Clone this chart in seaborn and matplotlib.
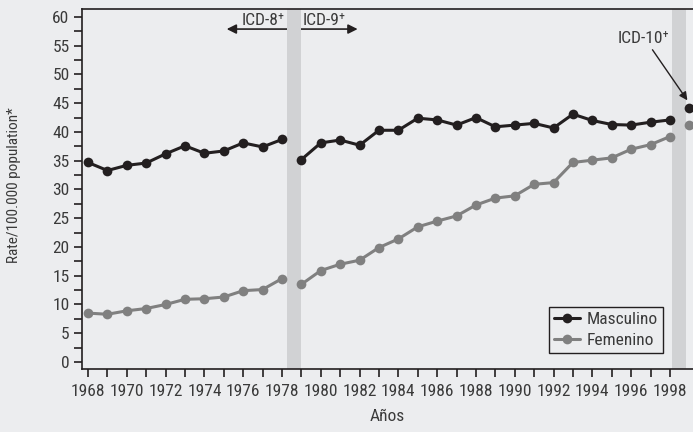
import matplotlib
matplotlib.use("Agg")
import matplotlib.pyplot as plt
from matplotlib.lines import Line2D
import seaborn as sns
import pandas as pd

years = list(range(1968, 2000))
masculino = [34.7, 33.3, 34.2, 34.6, 36.2, 37.6, 36.3, 36.7, 38.1, 37.4, 38.7,
             35.2, 38.1, 38.6, 37.7, 40.3, 40.3, 42.4, 42.1, 41.2, 42.5, 40.9,
             41.2, 41.5, 40.7, 43.1, 42.0, 41.3, 41.2, 41.7, 42.1, 44.2]
femenino = [8.5, 8.3, 8.9, 9.3, 10.0, 10.9, 11.0, 11.3, 12.4, 12.6, 14.5,
            13.5, 15.9, 17.0, 17.7, 19.9, 21.4, 23.5, 24.5, 25.4, 27.3, 28.5,
            28.9, 30.9, 31.2, 34.7, 35.1, 35.5, 37.0, 37.8, 39.2, 41.2]
segment_starts = [1968, 1979, 1999]  # ICD-8, ICD-9, ICD-10 periods
series_labels = ["Masculino", "Femenino"]
yticks = list(range(0, 61, 5))
xticks_labeled = list(range(1968, 1999, 2))

def seg_of(y):
    s = 0
    for i, st in enumerate(segment_starts):
        if y >= st:
            s = i
    return s

rows = []
for y, m, f in zip(years, masculino, femenino):
    rows.append({"year": y, "rate": m, "sexo": "Masculino", "seg": seg_of(y)})
    rows.append({"year": y, "rate": f, "sexo": "Femenino", "seg": seg_of(y)})
df = pd.DataFrame(rows)

sns.set_style("ticks")
plt.rcParams["font.family"] = ["Roboto Condensed", "DejaVu Sans"]
bg = "#ECEDEF"
txt = "#3A3A3A"
dark = "#231F20"
colors = {"Masculino": dark, "Femenino": "#808080"}

fig = plt.figure(figsize=(6.93, 4.32), dpi=100, facecolor=bg)
ax = fig.add_axes([82/693, 63/432, 1 - 82/693, 360/432])
ax.set_facecolor(bg)

# shaded bands (coding changes)
ax.axvspan(1978.25, 1978.98, color="#D1D2D4", lw=0, zorder=1)
ax.axvspan(1998.1, 1998.85, color="#D1D2D4", lw=0, zorder=1)

sns.lineplot(data=df, x="year", y="rate", hue="sexo", units="seg",
             estimator=None, palette=colors, hue_order=series_labels,
             marker="o", markersize=7, markeredgewidth=0, linewidth=2.2,
             ax=ax, legend=False, zorder=3)

ax.set_xlim(1967.69, 1999.19)
ax.set_ylim(-1.22, 61.39)
ax.set_yticks(yticks)
ax.set_yticks([v + 2.5 for v in yticks[:-1]], minor=True)
ax.set_xticks(years[:-1], minor=True)
ax.set_xticks(xticks_labeled)
ax.tick_params(axis="both", which="both", direction="out", length=6, width=1.2,
               color=dark, labelsize=12.5, labelcolor=txt, pad=3)
ax.tick_params(axis="x", which="major", pad=5)
for s in ["left", "bottom", "top"]:
    ax.spines[s].set_color(dark)
    ax.spines[s].set_linewidth(1.2)
ax.spines["right"].set_visible(False)

ax.set_xlabel("Años", fontsize=12.5, color=txt, labelpad=7)
ax.set_ylabel("")
fig.text(14/693, 1 - 185/432, "Rate/100.000 population*", rotation=90,
         ha="center", va="center", fontsize=11, color=txt)

# ICD annotations
arrow_kw = dict(arrowstyle="-|>", color=dark, lw=1.2, mutation_scale=14,
                shrinkA=0, shrinkB=0)
ax.annotate("", xy=(1975.15, 57.9), xytext=(1978.6, 57.9),
            arrowprops=arrow_kw, zorder=0)
ax.annotate("", xy=(1981.9, 57.9), xytext=(1978.6, 57.9),
            arrowprops=arrow_kw, zorder=0)
ax.text(1978.15, 58.0, "ICD-8⁺", ha="right", va="bottom",
        fontsize=12.5, color=txt)
ax.text(1979.05, 58.0, "ICD-9⁺", ha="left", va="bottom",
        fontsize=12.5, color=txt)
ax.text(1996.65, 54.9, "ICD-10⁺", ha="center", va="bottom",
        fontsize=12.5, color=txt)
ax.annotate("", xy=(1998.9, 45.5), xytext=(1997.1, 54.3),
            arrowprops=dict(arrowstyle="-|>", color=dark, lw=1.0,
                            mutation_scale=12, shrinkA=0, shrinkB=0))

handles = [Line2D([], [], color=colors[k], marker="o", markersize=7,
                  markeredgewidth=0, linewidth=2.2) for k in series_labels]
leg = ax.legend(handles, series_labels, loc="lower left",
                bbox_to_anchor=((549 - 82) / 611, (369 - 353) / 360),
                fontsize=12.5, frameon=True, fancybox=False, framealpha=1,
                facecolor=bg, edgecolor=dark, handlelength=1.5,
                handletextpad=0.35, borderpad=0.3, labelspacing=0.3,
                borderaxespad=0)
leg.get_frame().set_linewidth(1.0)
for t in leg.get_texts():
    t.set_color(txt)

fig.savefig("out.png", dpi=100, facecolor=bg)
